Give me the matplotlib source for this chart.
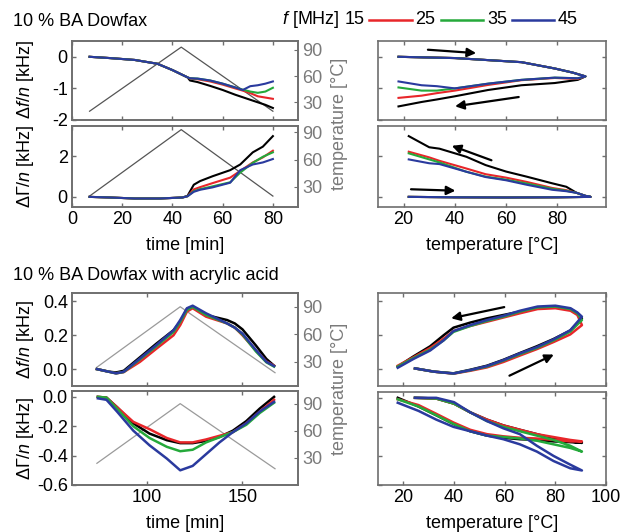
import matplotlib.pyplot as plt
from matplotlib.lines import Line2D

plt.rcParams['font.family'] = ['Liberation Sans', 'DejaVu Sans']
plt.rcParams['mathtext.fontset'] = 'custom'
plt.rcParams['mathtext.rm'] = 'Liberation Sans'
plt.rcParams['mathtext.it'] = 'Liberation Sans:italic'
plt.rcParams['font.size'] = 13

colors = ['black', '#e8262a', '#25a93b', '#2a3a9e']   # 15, 25, 35, 45 MHz
freqs = ['15', '25', '35', '45']

# ---------- 10 % BA Dowfax ----------
temp_t1 = [7, 43.5, 80]
temp_T1 = [20, 93, 20]

t_df1 = [7, 15, 25, 34, 40, 46, 47, 50, 55, 60, 65, 68, 71, 74, 77, 80]
df1 = [
    [0, -0.04, -0.1, -0.22, -0.42, -0.65, -0.75, -0.8, -0.92, -1.05, -1.2, -1.28, -1.36, -1.44, -1.52, -1.62],
    [0, -0.04, -0.1, -0.22, -0.42, -0.65, -0.69, -0.71, -0.78, -0.88, -1.0, -1.07, -1.15, -1.25, -1.29, -1.33],
    [0, -0.04, -0.1, -0.22, -0.42, -0.65, -0.68, -0.69, -0.75, -0.85, -0.97, -1.04, -1.1, -1.14, -1.1, -0.98],
    [0, -0.04, -0.1, -0.22, -0.42, -0.65, -0.68, -0.69, -0.75, -0.85, -0.97, -1.05, -0.93, -0.9, -0.85, -0.78],
]

t_dg1 = [7, 15, 25, 35, 44, 46, 48.5, 51, 56, 63, 67, 72, 76, 80]
dg1 = [
    [0, -0.03, -0.08, -0.08, -0.03, 0.05, 0.6, 0.78, 1.02, 1.32, 1.6, 2.2, 2.48, 3.0],
    [0, -0.03, -0.08, -0.08, -0.03, 0.03, 0.37, 0.48, 0.68, 0.95, 1.28, 1.7, 1.95, 2.28],
    [0, -0.03, -0.08, -0.08, -0.03, 0.03, 0.28, 0.38, 0.52, 0.72, 1.2, 1.68, 1.98, 2.2],
    [0, -0.03, -0.08, -0.08, -0.03, 0.03, 0.25, 0.35, 0.47, 0.7, 1.32, 1.6, 1.7, 1.87],
]

# vs temperature: heating branch then cooling branch
T_df1 = [18, 40, 66, 79, 86, 91, 88, 79, 66, 53, 40, 33, 27, 18]
dfT1 = [
    [0, -0.04, -0.17, -0.37, -0.5, -0.62, -0.73, -0.83, -0.9, -1.05, -1.25, -1.35, -1.43, -1.57],
    [0, -0.04, -0.17, -0.37, -0.5, -0.62, -0.7, -0.67, -0.74, -0.89, -1.07, -1.15, -1.23, -1.3],
    [0, -0.04, -0.17, -0.37, -0.5, -0.62, -0.68, -0.66, -0.73, -0.85, -1.0, -1.07, -1.07, -0.97],
    [0, -0.04, -0.17, -0.37, -0.5, -0.62, -0.68, -0.66, -0.73, -0.85, -1.0, -0.93, -0.9, -0.78],
]

T_dg1 = [22, 40, 60, 80, 93, 91, 87.5, 83.5, 78, 68, 60, 52, 44.5, 34, 30, 22]
dgT1 = [
    [0, -0.02, -0.03, -0.02, 0, 0.05, 0.2, 0.5, 0.67, 1.0, 1.25, 1.57, 1.98, 2.38, 2.45, 3.0],
    [0, -0.02, -0.03, -0.02, 0, 0.05, 0.2, 0.33, 0.44, 0.74, 0.95, 1.12, 1.4, 1.78, 1.95, 2.23],
    [0, -0.02, -0.03, -0.02, 0, 0.05, 0.2, 0.3, 0.4, 0.66, 0.85, 1.0, 1.24, 1.7, 1.85, 2.15],
    [0, -0.02, -0.03, -0.02, 0, 0.05, 0.2, 0.28, 0.35, 0.6, 0.82, 0.98, 1.24, 1.62, 1.66, 1.85],
]

# ---------- 10 % BA Dowfax with acrylic acid ----------
temp_t2 = [74, 117.5, 167]
temp_T2 = [24, 90, 18]

t_df2 = [74, 80, 84, 88, 96.5, 105, 114, 117.5, 121, 124, 131, 142, 146, 150, 157, 162.5, 166.5]
df2 = [
    [0.0, -0.015, -0.02, -0.01, 0.07, 0.15, 0.23, 0.28, 0.355, 0.37, 0.32, 0.29, 0.27, 0.235, 0.14, 0.06, 0.02],
    [0.0, -0.015, -0.025, -0.018, 0.043, 0.12, 0.2, 0.26, 0.34, 0.36, 0.31, 0.27, 0.245, 0.2, 0.11, 0.045, 0.02],
    [0.0, -0.015, -0.025, -0.017, 0.058, 0.135, 0.22, 0.28, 0.35, 0.368, 0.32, 0.27, 0.245, 0.205, 0.105, 0.04, 0.015],
    [0.0, -0.015, -0.025, -0.016, 0.063, 0.142, 0.23, 0.29, 0.36, 0.375, 0.33, 0.27, 0.245, 0.21, 0.113, 0.043, 0.018],
]

t_dg2 = [74.5, 79, 84.5, 93, 101.5, 110.5, 117.5, 124, 131, 138, 145, 152, 159, 166.5]
dg2 = [
    [0, -0.005, -0.07, -0.18, -0.25, -0.295, -0.315, -0.315, -0.3, -0.273, -0.23, -0.165, -0.08, 0.0],
    [0, -0.005, -0.07, -0.17, -0.22, -0.28, -0.31, -0.31, -0.29, -0.265, -0.24, -0.18, -0.1, -0.02],
    [0, -0.005, -0.08, -0.2, -0.28, -0.34, -0.37, -0.36, -0.31, -0.275, -0.24, -0.19, -0.11, -0.04],
    [-0.01, -0.02, -0.1, -0.23, -0.33, -0.42, -0.5, -0.47, -0.39, -0.31, -0.24, -0.18, -0.1, -0.034],
]

T_df2 = [24.6, 32, 39.8, 46.4, 53, 59.5, 66, 72.7, 79.3, 85.9, 90.5,
         88.7, 86, 80, 73, 66, 59.5, 53, 46.4, 39.8, 35.9, 30.6, 24, 17.8]
dfT2 = [
    [0.004, -0.015, -0.025, -0.004, 0.02, 0.055, 0.095, 0.135, 0.178, 0.228, 0.3,
     0.33, 0.355, 0.365, 0.36, 0.34, 0.32, 0.3, 0.275, 0.245, 0.2, 0.135, 0.075, 0.015],
    [0.004, -0.015, -0.027, -0.01, 0.01, 0.042, 0.08, 0.118, 0.16, 0.205, 0.26,
     0.32, 0.345, 0.36, 0.355, 0.33, 0.305, 0.28, 0.255, 0.225, 0.18, 0.125, 0.07, 0.02],
    [0.004, -0.015, -0.026, -0.007, 0.015, 0.05, 0.088, 0.125, 0.17, 0.222, 0.29,
     0.33, 0.355, 0.37, 0.365, 0.34, 0.31, 0.285, 0.255, 0.22, 0.17, 0.115, 0.065, 0.015],
    [0.004, -0.015, -0.026, -0.006, 0.018, 0.053, 0.093, 0.13, 0.176, 0.23, 0.31,
     0.335, 0.36, 0.375, 0.37, 0.345, 0.315, 0.29, 0.26, 0.225, 0.17, 0.11, 0.06, 0.008],
]

T_dg2 = [24.6, 33, 40, 46.4, 53, 59.5, 66, 72.7, 79.3, 85.9, 90.5,
         85.9, 79.3, 72.7, 66, 59.5, 53, 46.4, 39.8, 33, 26, 17.8]
dgT2 = [
    [0, -0.005, -0.04, -0.1, -0.15, -0.19, -0.22, -0.25, -0.28, -0.3, -0.31,
     -0.305, -0.3, -0.29, -0.285, -0.275, -0.26, -0.23, -0.18, -0.12, -0.06, 0.0],
    [0, -0.005, -0.04, -0.1, -0.15, -0.19, -0.22, -0.25, -0.27, -0.29, -0.3,
     -0.3, -0.29, -0.28, -0.275, -0.265, -0.25, -0.22, -0.17, -0.11, -0.05, -0.01],
    [0, -0.005, -0.04, -0.1, -0.16, -0.2, -0.23, -0.26, -0.29, -0.33, -0.37,
     -0.345, -0.32, -0.295, -0.28, -0.27, -0.26, -0.23, -0.18, -0.12, -0.06, -0.01],
    [0, 0.0, -0.03, -0.1, -0.16, -0.21, -0.25, -0.33, -0.4, -0.46, -0.5,
     -0.485, -0.435, -0.37, -0.32, -0.285, -0.26, -0.23, -0.2, -0.15, -0.09, -0.034],
]

# arrows (start, end) in data units
arrows_c = [((28.4, 0.23), (49.4, 0.11)), ((66, -1.26), (39, -1.58))]
arrows_d = [((55.3, 1.76), (37.8, 2.57)), ((21.8, 0.38), (41.3, 0.3))]
arrows_e = [((60.9, 0.37), (37.8, 0.297)), ((60.9, -0.046), (80.4, 0.093))]

W, H = 621, 532
fig = plt.figure(figsize=(W / 100, H / 100), dpi=100)
frame = '#6e6e6e'
tgray = '#7a7a7a'


def box(l, t, r, b):
    return [l / W, 1 - b / H, (r - l) / W, (b - t) / H]


def style(ax):
    ax.tick_params(direction='in', top=True, right=True, length=3, width=1,
                   color=frame, labelsize=13, pad=3)
    for s in ax.spines.values():
        s.set_color(frame)
        s.set_linewidth(1.2)


def time_panel(rect, t, series, tt, tT, tlim, xlim, ylim, yticks, xticks, tcolor, lw):
    ax = fig.add_axes(rect)
    tw = ax.twinx()
    tw.plot(tt, tT, color=tcolor, lw=0.9)
    tw.set_ylim(tlim)
    tw.set_yticks([30, 60, 90])
    tw.tick_params(direction='in', length=3, colors=tgray, labelsize=13, pad=3)
    tw.tick_params(axis='y', color=frame)
    for y, c in zip(series, colors):
        ax.plot(t, y, color=c, lw=lw)
    ax.set_zorder(tw.get_zorder() + 1)
    ax.patch.set_visible(False)
    ax.set_xlim(xlim)
    ax.set_ylim(ylim)
    ax.set_yticks(yticks)
    ax.set_xticks(xticks)
    style(ax)
    ax.tick_params(right=False)
    for s in tw.spines.values():
        s.set_color(frame)
        s.set_linewidth(1.2)
    return ax


def temp_panel(rect, T, series, xlim, ylim, yticks, xticks, lw, arrows):
    ax = fig.add_axes(rect)
    for y, c in zip(series, colors):
        ax.plot(T, y, color=c, lw=lw)
    for a, b in arrows:
        ax.annotate('', xy=b, xytext=a,
                    arrowprops=dict(arrowstyle='-|>', color='k', lw=1.6, mutation_scale=13))
    ax.set_xlim(xlim)
    ax.set_ylim(ylim)
    ax.set_yticks(yticks)
    ax.set_xticks(xticks)
    ax.set_yticklabels([])
    style(ax)
    return ax


# top section
axA = time_panel(box(72, 41, 298, 120), t_df1, df1, temp_t1, temp_T1, (10, 100),
                 (0, 90), (-2, 0.5), [-2, -1, 0], [0, 20, 40, 60, 80], '#555555', 1.5)
axA.set_xticklabels([])
axA.set_yticklabels(['-2', '-1', '0'])
axB = time_panel(box(72, 126, 298, 207), t_dg1, dg1, temp_t1, temp_T1, (8, 97),
                 (0, 90), (-0.5, 3.5), [0, 2], [0, 20, 40, 60, 80], '#555555', 1.5)
axB.set_xlabel('time [min]', labelpad=6)

axC = temp_panel(box(378, 41, 606, 120), T_df1, dfT1, (10, 99), (-2, 0.5), [-2, -1, 0],
                 [20, 40, 60, 80], 1.5, arrows_c)
axC.set_xticklabels([])
axD = temp_panel(box(378, 126, 606, 207), T_dg1, dgT1, (10, 99), (-0.5, 3.5), [0, 2],
                 [20, 40, 60, 80], 1.5, arrows_d)
axD.set_xlabel('temperature [°C]', labelpad=6)

# bottom section
axE = time_panel(box(72, 293, 298, 386), t_df2, df2, temp_t2, temp_T2, (3.5, 105),
                 (61, 179), (-0.1, 0.45), [0.0, 0.2, 0.4], [100, 150], '#9a9a9a', 1.8)
axE.set_xticklabels([])
axE.set_yticklabels(['0.0', '0.2', '0.4'])
axF = time_panel(box(72, 391, 298, 485), t_dg2, dg2, temp_t2, temp_T2, (0, 104),
                 (61, 179), (-0.6, 0.04), [-0.6, -0.4, -0.2, 0.0], [100, 150], '#9a9a9a', 1.8)
axF.set_yticklabels(['-0.6', '-0.4', '-0.2', '0.0'])
axF.set_xlabel('time [min]', labelpad=6)

axE2 = temp_panel(box(378, 293, 606, 386), T_df2, dfT2, (10, 100), (-0.1, 0.45),
                  [0.0, 0.2, 0.4], [20, 40, 60, 80, 100], 1.8, arrows_e)
axE2.set_xticklabels([])
axF2 = temp_panel(box(378, 392, 606, 485), T_dg2, dgT2, (10, 100), (-0.6, 0.04),
                  [-0.6, -0.4, -0.2, 0.0], [20, 40, 60, 80, 100], 1.8, [])
axF2.set_xlabel('temperature [°C]', labelpad=6)

# y labels
fig.text(25 / W, 1 - 80 / H, r'$\Delta f/n$ [kHz]', rotation=90, ha='center', va='center')
fig.text(25 / W, 1 - 166 / H, r'$\Delta\Gamma/n$ [kHz]', rotation=90, ha='center', va='center')
fig.text(25 / W, 1 - 340 / H, r'$\Delta f/n$ [kHz]', rotation=90, ha='center', va='center')
fig.text(25 / W, 1 - 438 / H, r'$\Delta\Gamma/n$ [kHz]', rotation=90, ha='center', va='center')
fig.text(339 / W, 1 - 124 / H, 'temperature [°C]', rotation=90, ha='center', va='center', color=tgray)
fig.text(339 / W, 1 - 389 / H, 'temperature [°C]', rotation=90, ha='center', va='center', color=tgray)

# section titles
fig.text(13 / W, 1 - 21 / H, '10 % BA Dowfax', ha='left', va='center')
fig.text(13 / W, 1 - 275 / H, '10 % BA Dowfax with acrylic acid', ha='left', va='center')

# frequency key
fig.text(282 / W, 1 - 20 / H, r'$f$ [MHz]', ha='left', va='center')
fig.text(345 / W, 1 - 20 / H, freqs[0], ha='left', va='center')
key_x = [(369, 412), (441, 483), (512, 554)]
label_x = [415, 487, 558]
for (x0, x1), lx, c, lab in zip(key_x, label_x, colors[1:], freqs[1:]):
    fig.add_artist(Line2D([x0 / W, x1 / W], [1 - 20 / H, 1 - 20 / H], color=c, lw=1.8))
    fig.text(lx / W, 1 - 20 / H, lab, ha='left', va='center')

fig.savefig('out.png', dpi=100)
